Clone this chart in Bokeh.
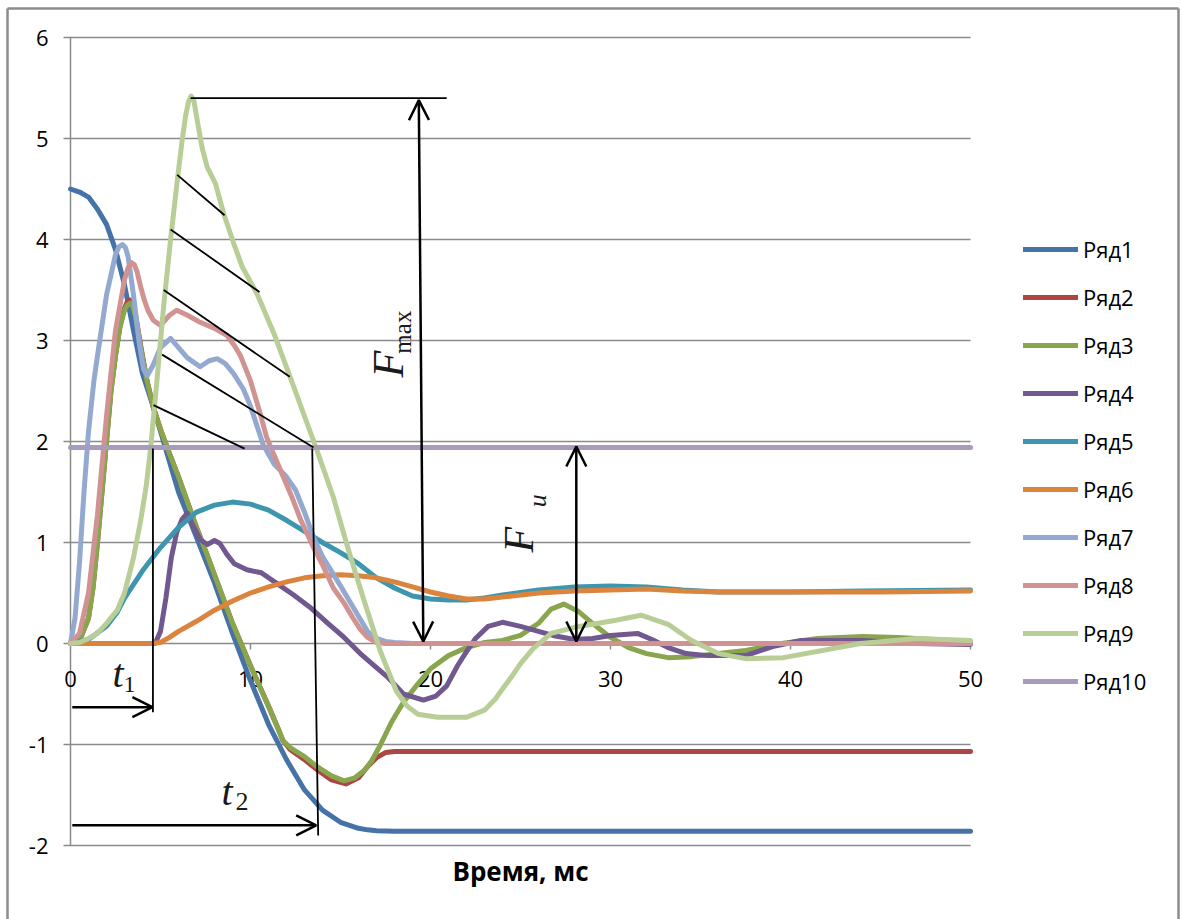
import math
from bokeh.plotting import figure
from bokeh.models import ColumnDataSource, Arrow, OpenHead, Legend, LegendItem, Range1d
from bokeh.core.properties import value
from bokeh.embed import file_html
from bokeh.resources import INLINE

# ---- axes ----
x_ticks = [0, 10, 20, 30, 40, 50]
y_ticks = [-2, -1, 0, 1, 2, 3, 4, 5, 6]
x_title = "Время, мс"

series_names = ["Ряд1", "Ряд2", "Ряд3", "Ряд4", "Ряд5",
                "Ряд6", "Ряд7", "Ряд8", "Ряд9", "Ряд10"]
series_colors = ["#4572A7", "#AA4643", "#89A54E", "#71588F", "#3D96AE",
                 "#DB843D", "#93A9CF", "#D19392", "#B9CD96", "#A99BBD"]

# ---- series (time in ms, value) ----
s1_t = [0, 0.5, 1, 1.5, 2, 2.5, 3, 3.5, 4, 4.5, 5, 5.5, 6, 7, 8, 9, 10, 11, 12, 13,
        14, 15, 16, 16.5, 17, 17.5, 18, 20, 30, 40, 50]
s1_v = [4.5, 4.47, 4.42, 4.3, 4.15, 3.9, 3.55, 3.1, 2.67, 2.4, 2.1, 1.8, 1.5, 1.05,
        0.6, 0.1, -0.37, -0.8, -1.15, -1.45, -1.65, -1.77, -1.83, -1.845, -1.853,
        -1.857, -1.86, -1.86, -1.86, -1.86, -1.86]

s2_t = [0, 0.5, 1, 1.25, 1.5, 1.75, 2, 2.25, 2.5, 2.75, 3, 3.15, 3.3, 3.45, 3.6, 3.9,
        4.25, 4.6, 5, 5.5, 6, 6.5, 7, 7.5, 8, 8.5, 9, 9.5, 10, 10.5, 11, 11.5, 11.8,
        12.2, 13, 13.7, 14.5, 15.3, 16, 16.5, 17, 17.5, 18, 19, 20, 30, 40, 50]
s2_v = [0, 0.03, 0.25, 0.55, 1.0, 1.5, 2.0, 2.5, 2.85, 3.15, 3.32, 3.38, 3.4, 3.36,
        3.27, 2.95, 2.6, 2.34, 2.12, 1.88, 1.65, 1.4, 1.15, 0.92, 0.68, 0.44, 0.2,
        -0.01, -0.22, -0.42, -0.62, -0.83, -0.96, -1.05, -1.15, -1.25, -1.35,
        -1.39, -1.33, -1.22, -1.13, -1.08, -1.07, -1.07, -1.07, -1.07, -1.07,
        -1.07]

s3_t = [0, 0.5, 1, 1.25, 1.5, 1.75, 2, 2.25, 2.5, 2.75, 3, 3.15, 3.3, 3.45, 3.6, 3.9,
        4.25, 4.6, 5, 5.5, 6, 6.5, 7, 7.5, 8, 8.5, 9, 9.5, 10, 10.5, 11, 11.5, 11.8,
        12.2, 13, 13.7, 14.5, 15.2, 15.8, 16.3, 16.7, 17.2, 17.8, 18.5, 19.3, 20,
        21, 22, 23, 24, 25, 26, 26.7, 27.4, 28.2, 29, 30, 31, 32, 33.2, 34.5, 36,
        37.5, 39.5, 41.5, 44, 46, 50]
s3_v = [0, 0.03, 0.25, 0.55, 1.0, 1.5, 2.0, 2.5, 2.85, 3.13, 3.3, 3.35, 3.37, 3.34,
        3.25, 2.93, 2.6, 2.34, 2.12, 1.88, 1.65, 1.4, 1.15, 0.92, 0.68, 0.44, 0.2,
        -0.01, -0.22, -0.42, -0.62, -0.83, -0.96, -1.03, -1.12, -1.22, -1.31,
        -1.36, -1.33, -1.26, -1.17, -1.01, -0.79, -0.58, -0.4, -0.25, -0.12, -0.04,
        0.01, 0.03, 0.08, 0.2, 0.34, 0.39, 0.32, 0.2, 0.06, -0.04, -0.1, -0.14,
        -0.13, -0.1, -0.07, 0.0, 0.05, 0.07, 0.06, 0.02]

s4_t = [0, 4.7, 5.0, 5.3, 5.6, 5.9, 6.2, 6.5, 6.8, 7.2, 7.6, 8.0, 8.3, 8.7, 9.1, 9.8,
        10.6, 11.5, 12.4, 13.3, 14.3, 15.2, 16.1, 17, 17.6, 18.5, 19.6, 20.3, 20.9,
        21.5, 22, 22.5, 23.2, 24, 25, 26, 26.8, 28, 29, 30, 31.5, 32.3, 33.2, 34.2,
        35.4, 37.5, 39, 40.6, 44, 47, 50]
s4_v = [0, 0, 0.12, 0.45, 0.85, 1.1, 1.23, 1.29, 1.17, 1.03, 0.98, 1.02, 0.99, 0.88,
        0.79, 0.73, 0.7, 0.59, 0.48, 0.36, 0.2, 0.06, -0.1, -0.24, -0.33, -0.5,
        -0.56, -0.52, -0.42, -0.22, -0.08, 0.05, 0.17, 0.21, 0.17, 0.12, 0.08, 0.04,
        0.05, 0.08, 0.1, 0.04, -0.04, -0.1, -0.12, -0.12, -0.03, 0.03, 0.03, 0.0,
        -0.01]

s5_t = [0, 1, 2, 2.6, 3, 4, 5, 6, 7, 8, 9, 10, 11, 12, 13, 14, 15, 16, 17, 18, 19,
        20, 21, 22, 23, 24, 26, 28, 30, 32, 34, 36, 38, 40, 44, 50]
s5_v = [0, 0.04, 0.17, 0.31, 0.45, 0.72, 0.95, 1.15, 1.3, 1.37, 1.4, 1.38, 1.32,
        1.22, 1.11, 1.0, 0.9, 0.79, 0.65, 0.55, 0.47, 0.44, 0.43, 0.43, 0.45, 0.48,
        0.53, 0.56, 0.57, 0.56, 0.53, 0.51, 0.51, 0.51, 0.52, 0.53]

s6_t = [0, 4.5, 5, 5.5, 6, 7, 8, 9, 10, 11, 12, 13, 14, 15, 16, 17, 18, 19, 20, 21,
        22, 23, 24, 26, 28, 30, 32, 34, 36, 38, 40, 45, 50]
s6_v = [0, 0, 0.01, 0.06, 0.12, 0.22, 0.33, 0.42, 0.5, 0.56, 0.61, 0.65, 0.67, 0.68,
        0.67, 0.65, 0.61, 0.56, 0.51, 0.47, 0.44, 0.44, 0.46, 0.5, 0.52, 0.53,
        0.54, 0.52, 0.51, 0.51, 0.51, 0.51, 0.52]

s7_t = [0, 0.25, 0.5, 0.75, 1, 1.3, 1.5, 2, 2.5, 2.7, 2.9, 3.05, 3.2, 3.5, 3.8, 4.05,
        4.26, 4.6, 5, 5.56, 6, 6.48, 7.2, 7.7, 8.15, 8.6, 9.07, 9.6, 10, 10.7, 11.3,
        12, 12.5, 13, 13.5, 14, 15, 16, 16.5, 17, 17.5, 18, 19, 50]
s7_v = [0, 0.25, 0.8, 1.5, 2.1, 2.6, 2.85, 3.45, 3.85, 3.93, 3.95, 3.92, 3.83, 3.45,
        3.0, 2.72, 2.65, 2.76, 2.93, 3.02, 2.93, 2.83, 2.74, 2.8, 2.82, 2.77, 2.67,
        2.52, 2.35, 1.97, 1.78, 1.65, 1.52, 1.3, 1.05, 0.86, 0.57, 0.27, 0.12, 0.05,
        0.02, 0.01, 0, 0]

s8_t = [0, 0.5, 1, 1.5, 2, 2.5, 3, 3.2, 3.4, 3.55, 3.7, 3.9, 4.1, 4.3, 4.6, 5, 5.5,
        5.9, 6.5, 7.2, 8, 8.7, 9.1, 9.44, 10, 10.5, 10.9, 11.7, 12.3, 12.8, 13.5,
        14, 14.6, 15.2, 15.7, 16.1, 16.5, 17, 17.5, 50]
s8_v = [0, 0.1, 0.5, 1.28, 2.25, 3.1, 3.6, 3.72, 3.77, 3.75, 3.68, 3.53, 3.4, 3.3,
        3.2, 3.15, 3.25, 3.3, 3.25, 3.18, 3.12, 3.05, 2.95, 2.85, 2.6, 2.3, 2.04,
        1.7, 1.45, 1.22, 0.95, 0.78, 0.55, 0.4, 0.25, 0.14, 0.06, 0.01, 0, 0]

s9_t = [0, 0.5, 1, 1.5, 2, 2.6, 3, 3.5, 3.9, 4.2, 4.45, 4.8, 5.18, 5.56, 5.93, 6.2,
        6.39, 6.55, 6.7, 6.85, 7.04, 7.31, 7.59, 8.06, 8.52, 9.07, 9.54, 10.37,
        11.3, 12.2, 13, 13.6, 14.6, 15.4, 16.3, 17.2, 18.1, 18.7, 19.3, 20.4, 22,
        23, 23.6, 24, 24.5, 25, 25.7, 26.7, 28, 29, 30.3, 31.7, 33.2, 34.5, 36,
        37.5, 39.6, 43.9, 47, 50]
s9_v = [0, 0.01, 0.05, 0.1, 0.2, 0.33, 0.5, 0.85, 1.22, 1.55, 1.93, 2.6, 3.35, 4.0,
        4.58, 4.98, 5.22, 5.36, 5.42, 5.38, 5.18, 4.91, 4.72, 4.55, 4.25, 3.96,
        3.73, 3.46, 3.07, 2.64, 2.25, 1.96, 1.45, 0.95, 0.43, -0.07, -0.47, -0.62,
        -0.7, -0.73, -0.73, -0.66, -0.55, -0.45, -0.33, -0.2, -0.05, 0.1, 0.16,
        0.19, 0.23, 0.28, 0.19, 0.03, -0.1, -0.15, -0.14, 0.0, 0.05, 0.03]

s10_t = [0, 50]
s10_v = [1.94, 1.94]

series_t = [s1_t, s2_t, s3_t, s4_t, s5_t, s6_t, s7_t, s8_t, s9_t, s10_t]
series_v = [s1_v, s2_v, s3_v, s4_v, s5_v, s6_v, s7_v, s8_v, s9_v, s10_v]

# ---- construction lines drawn over the curves ----
hatch_x0 = [5.93, 5.56, 5.18, 5.09, 4.61]
hatch_y0 = [4.64, 4.10, 3.50, 2.86, 2.36]
hatch_x1 = [8.56, 10.5, 12.18, 13.5, 9.67]
hatch_y1 = [4.24, 3.48, 2.64, 1.94, 1.93]

guide_x0 = [6.67, 4.58, 13.43]
guide_y0 = [5.40, 1.93, 1.93]
guide_x1 = [20.9, 4.58, 13.76]
guide_y1 = [5.40, -0.68, -1.90]

# ---- page geometry: 18 px per ms, 101 px per unit, origin at (70, 643) ----
W, H = 1182, 919
X0, Y0, SX, SY = 70, 643, 18.0, 101.0


def dx(px):
    return (px - X0) / SX


def dy(py):
    return (Y0 - py) / SY


p = figure(frame_width=W, frame_height=H, min_border=0,
           x_range=Range1d(dx(0), dx(W)), y_range=Range1d(dy(H), dy(0)),
           x_axis_location=None, y_axis_location=None,
           output_backend="svg", toolbar_location=None,
           background_fill_color="white", border_fill_color="white")
p.outline_line_color = None
p.grid.visible = False

AXIS_GRAY = "#8a8a8a"
tick_len = 7 / SX

# outer chart border (left, top, right)
p.segment(x0=[dx(7), dx(7), dx(1178)], y0=[dy(H + 5), dy(8), dy(8)],
          x1=[dx(7), dx(1178), dx(1178)], y1=[dy(8), dy(8), dy(H + 5)],
          line_color="#8c8c8c", line_width=2.5)

# horizontal gridlines with their tick stubs on the value axis
p.segment(x0=[-tick_len] * len(y_ticks), y0=y_ticks,
          x1=[x_ticks[-1]] * len(y_ticks), y1=y_ticks,
          line_color=AXIS_GRAY, line_width=1.5)
# value axis line
p.segment(x0=[0], y0=[y_ticks[0]], x1=[0], y1=[y_ticks[-1]],
          line_color=AXIS_GRAY, line_width=1.5)
p.text(x=[-tick_len - 15 / SX] * len(y_ticks), y=y_ticks,
       text=[str(t) for t in y_ticks], text_align="right", text_baseline="middle",
       text_font=value("Open Sans"), text_font_size="22px", text_color="black")

# time axis drawn through zero: tick marks and labels
p.segment(x0=x_ticks[1:], y0=[0] * 5, x1=x_ticks[1:], y1=[-6 / SY] * 5,
          line_color=AXIS_GRAY, line_width=1.5)
p.text(x=x_ticks, y=[0] * len(x_ticks), text=[str(t) for t in x_ticks],
       y_offset=35, text_align="center", text_baseline="middle",
       text_font=value("Open Sans"), text_font_size="22px", text_color="black")
p.text(x=[25], y=[dy(870)], text=[x_title], text_align="center",
       text_baseline="middle", text_font=value("Open Sans"),
       text_font_style="bold", text_font_size="26px", text_color="black")

# data series
items = []
for name, color, t, v in zip(series_names, series_colors, series_t, series_v):
    r = p.line(t, v, line_color=color, line_width=5, line_join="round",
               line_cap="round")
    items.append(LegendItem(label=name, renderers=[r]))

# construction lines
p.segment(x0=hatch_x0, y0=hatch_y0, x1=hatch_x1, y1=hatch_y1,
          line_color="black", line_width=1.8)
p.segment(x0=guide_x0, y0=guide_y0, x1=guide_x1, y1=guide_y1,
          line_color="black", line_width=1.8)


def head():
    return OpenHead(size=20, line_width=2.5, line_color="black")


p.add_layout(Arrow(x_start=19.6, y_start=0.02, x_end=19.35, y_end=5.38,
                   start=head(), end=head(), line_width=2.5, line_color="black"))
p.add_layout(Arrow(x_start=28.1, y_start=0.02, x_end=28.1, y_end=1.95,
                   start=head(), end=head(), line_width=2.5, line_color="black"))
p.add_layout(Arrow(x_start=0.1, y_start=-0.63, x_end=4.55, y_end=-0.63,
                   start=None, end=head(), line_width=2.5, line_color="black"))
p.add_layout(Arrow(x_start=0.1, y_start=-1.80, x_end=13.65, y_end=-1.80,
                   start=None, end=head(), line_width=2.5, line_color="black"))

# symbols: F_max, F_u (rotated), t_1, t_2
serif = value("Liberation Serif")
ink = "#1a1a1a"
sym_x = [17.67, 18.44, 24.89, 25.94, 2.33, 2.94, 8.39, 9.17]
sym_y = [2.634, 2.87, 0.90, 1.35, -0.297, -0.406, -1.465, -1.564]
sym_text = ["F", "max", "F", "u", "t", "1", "t", "2"]
sym_angle = [math.pi / 2] * 4 + [0] * 4
sym_style = ["italic", "normal", "italic", "italic",
             "italic", "normal", "italic", "normal"]
sym_size = ["44px", "25px", "42px", "26px", "40px", "24px", "40px", "26px"]
p.text(x="x", y="y", text="text", angle="angle", text_font_style="style",
       text_font_size="size", text_font=serif, text_align="left",
       text_baseline="alphabetic", text_color=ink,
       source=ColumnDataSource(dict(x=sym_x, y=sym_y, text=sym_text,
                                    angle=sym_angle, style=sym_style,
                                    size=sym_size)))

# legend on the right
lg = Legend(items=items, location=(1023, 223), padding=0, margin=0, spacing=18,
            glyph_width=55, glyph_height=30, label_height=30, label_standoff=5,
            label_text_font="Open Sans", label_text_font_size="22px",
            label_text_color="black", border_line_color=None,
            background_fill_alpha=0)
p.add_layout(lg)

open("out.html", "w").write(file_html(p, INLINE))
